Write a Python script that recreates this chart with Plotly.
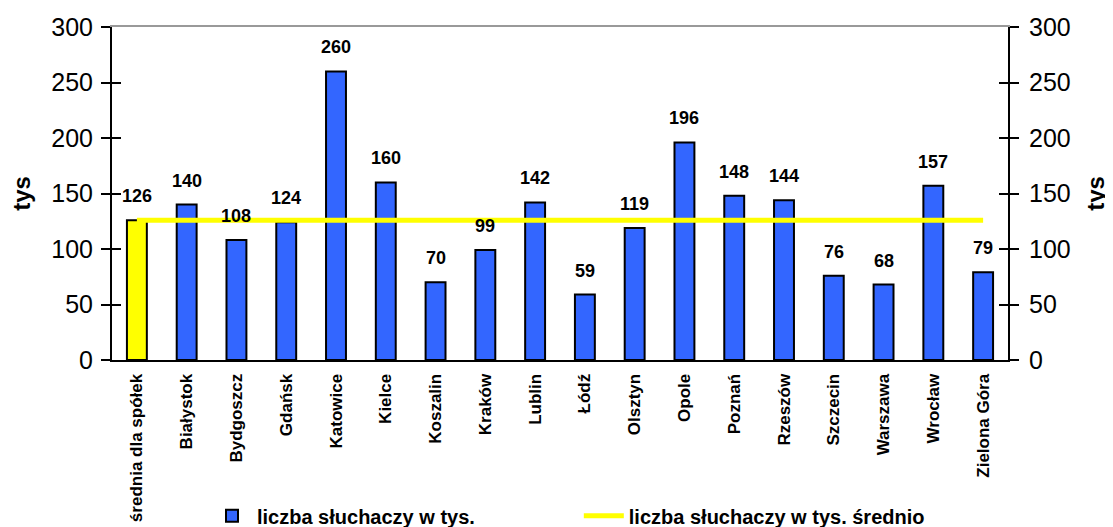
import plotly.graph_objects as go

categories = ["średnia dla spółek", "Białystok", "Bydgoszcz", "Gdańsk", "Katowice", "Kielce",
              "Koszalin", "Kraków", "Lublin", "Łódź", "Olsztyn", "Opole", "Poznań", "Rzeszów",
              "Szczecin", "Warszawa", "Wrocław", "Zielona Góra"]
listeners = [126, 140, 108, 124, 260, 160, 70, 99, 142, 59, 119, 196, 148, 144, 76, 68, 157, 79]
average = [126] * len(categories)
y_ticks = [0, 50, 100, 150, 200, 250, 300]

FONT = "Liberation Sans, Arial, sans-serif"
BLUE = "#3366FF"
YELLOW = "#FFFF00"
n = len(categories)

fig = go.Figure()
# yellow average bar
fig.add_trace(go.Bar(
    x=categories[:1], y=listeners[:1], name="średnia", showlegend=False,
    marker=dict(color=YELLOW, line=dict(color="black", width=2)),
    width=0.4,
))
# blue bars (legend entry)
fig.add_trace(go.Bar(
    x=categories[1:], y=listeners[1:], name="liczba słuchaczy w tys.",
    marker=dict(color=BLUE, line=dict(color="black", width=2)),
    width=0.4, legend="legend",
))
fig.add_trace(go.Scatter(
    x=categories, y=average, mode="lines", name="liczba słuchaczy w tys. średnio",
    line=dict(color=YELLOW, width=5), legend="legend2",
))
# helper traces to drive extra axes
fig.add_trace(go.Scatter(x=categories, y=listeners, yaxis="y2", mode="none", showlegend=False, hoverinfo="skip"))
fig.add_trace(go.Scatter(x=categories, y=listeners, yaxis="y3", mode="none", showlegend=False, hoverinfo="skip"))
fig.add_trace(go.Scatter(x=categories, y=listeners, yaxis="y4", mode="none", showlegend=False, hoverinfo="skip"))
fig.add_trace(go.Scatter(x=categories, y=listeners, xaxis="x2", mode="none", showlegend=False, hoverinfo="skip"))

# value labels above bars
for c, v in zip(categories, listeners):
    fig.add_annotation(x=c, y=v, text=f"<b>{v}</b>", showarrow=False, yanchor="bottom",
                       yshift=12, font=dict(family=FONT, size=18, color="black"))

axis_font = dict(family=FONT, size=25, color="black")
title_font = dict(family=FONT, size=24, color="black")
legend_font = dict(family=FONT, size=20, color="black", weight="bold")
fig.update_layout(
    width=1113, height=527,
    margin=dict(l=104, r=113, t=19, b=175, autoexpand=False),
    paper_bgcolor="white", plot_bgcolor="white",
    barmode="overlay",
    showlegend=True,
    legend=dict(orientation="h", x=0.106, y=-0.468, xanchor="left", yanchor="middle",
                font=legend_font, itemwidth=40, bgcolor="rgba(0,0,0,0)"),
    legend2=dict(orientation="h", x=0.521, y=-0.468, xanchor="left", yanchor="middle",
                 font=legend_font, itemwidth=40, bgcolor="rgba(0,0,0,0)"),
    xaxis=dict(range=[-0.5, n - 0.5], categoryorder="array", categoryarray=categories,
               showline=True, linecolor="black", linewidth=2,
               ticks="", tickangle=-90, showgrid=False, automargin=False, ticklabelstandoff=5,
               tickfont=dict(family=FONT, size=17, color="black", weight="bold")),
    xaxis2=dict(overlaying="x", side="top", range=[-0.5, n - 0.5],
                categoryorder="array", categoryarray=categories,
                showline=True, linecolor="#999999", linewidth=2, showticklabels=False,
                ticks="", showgrid=False, anchor="y", automargin=False),
    yaxis=dict(range=[0, 300], tickvals=y_ticks, showline=True, linecolor="black", linewidth=2,
               ticks="outside", ticklen=9, tickwidth=2, tickcolor="black", showgrid=False,
               zeroline=False, tickfont=axis_font, automargin=False, ticklabelstandoff=3,
               title=dict(text="<b>tys</b>", font=title_font, standoff=15)),
    yaxis2=dict(range=[0, 300], tickvals=y_ticks, overlaying="y", side="right", anchor="x",
                showline=True, linecolor="black", linewidth=2,
                ticks="outside", ticklen=9, tickwidth=2, tickcolor="black", showgrid=False,
                zeroline=False, tickfont=axis_font, automargin=False, ticklabelstandoff=5,
                title=dict(text="<b>tys</b>", font=title_font, standoff=17)),
    yaxis3=dict(range=[0, 300], tickvals=y_ticks, overlaying="y", side="left", anchor="x",
                ticks="inside", ticklen=9, tickwidth=2, tickcolor="black", showticklabels=False,
                showgrid=False, zeroline=False, showline=False, automargin=False),
    yaxis4=dict(range=[0, 300], tickvals=y_ticks, overlaying="y", side="right", anchor="x",
                ticks="inside", ticklen=9, tickwidth=2, tickcolor="black", showticklabels=False,
                showgrid=False, zeroline=False, showline=False, automargin=False),
)

fig.write_html("out.html")
